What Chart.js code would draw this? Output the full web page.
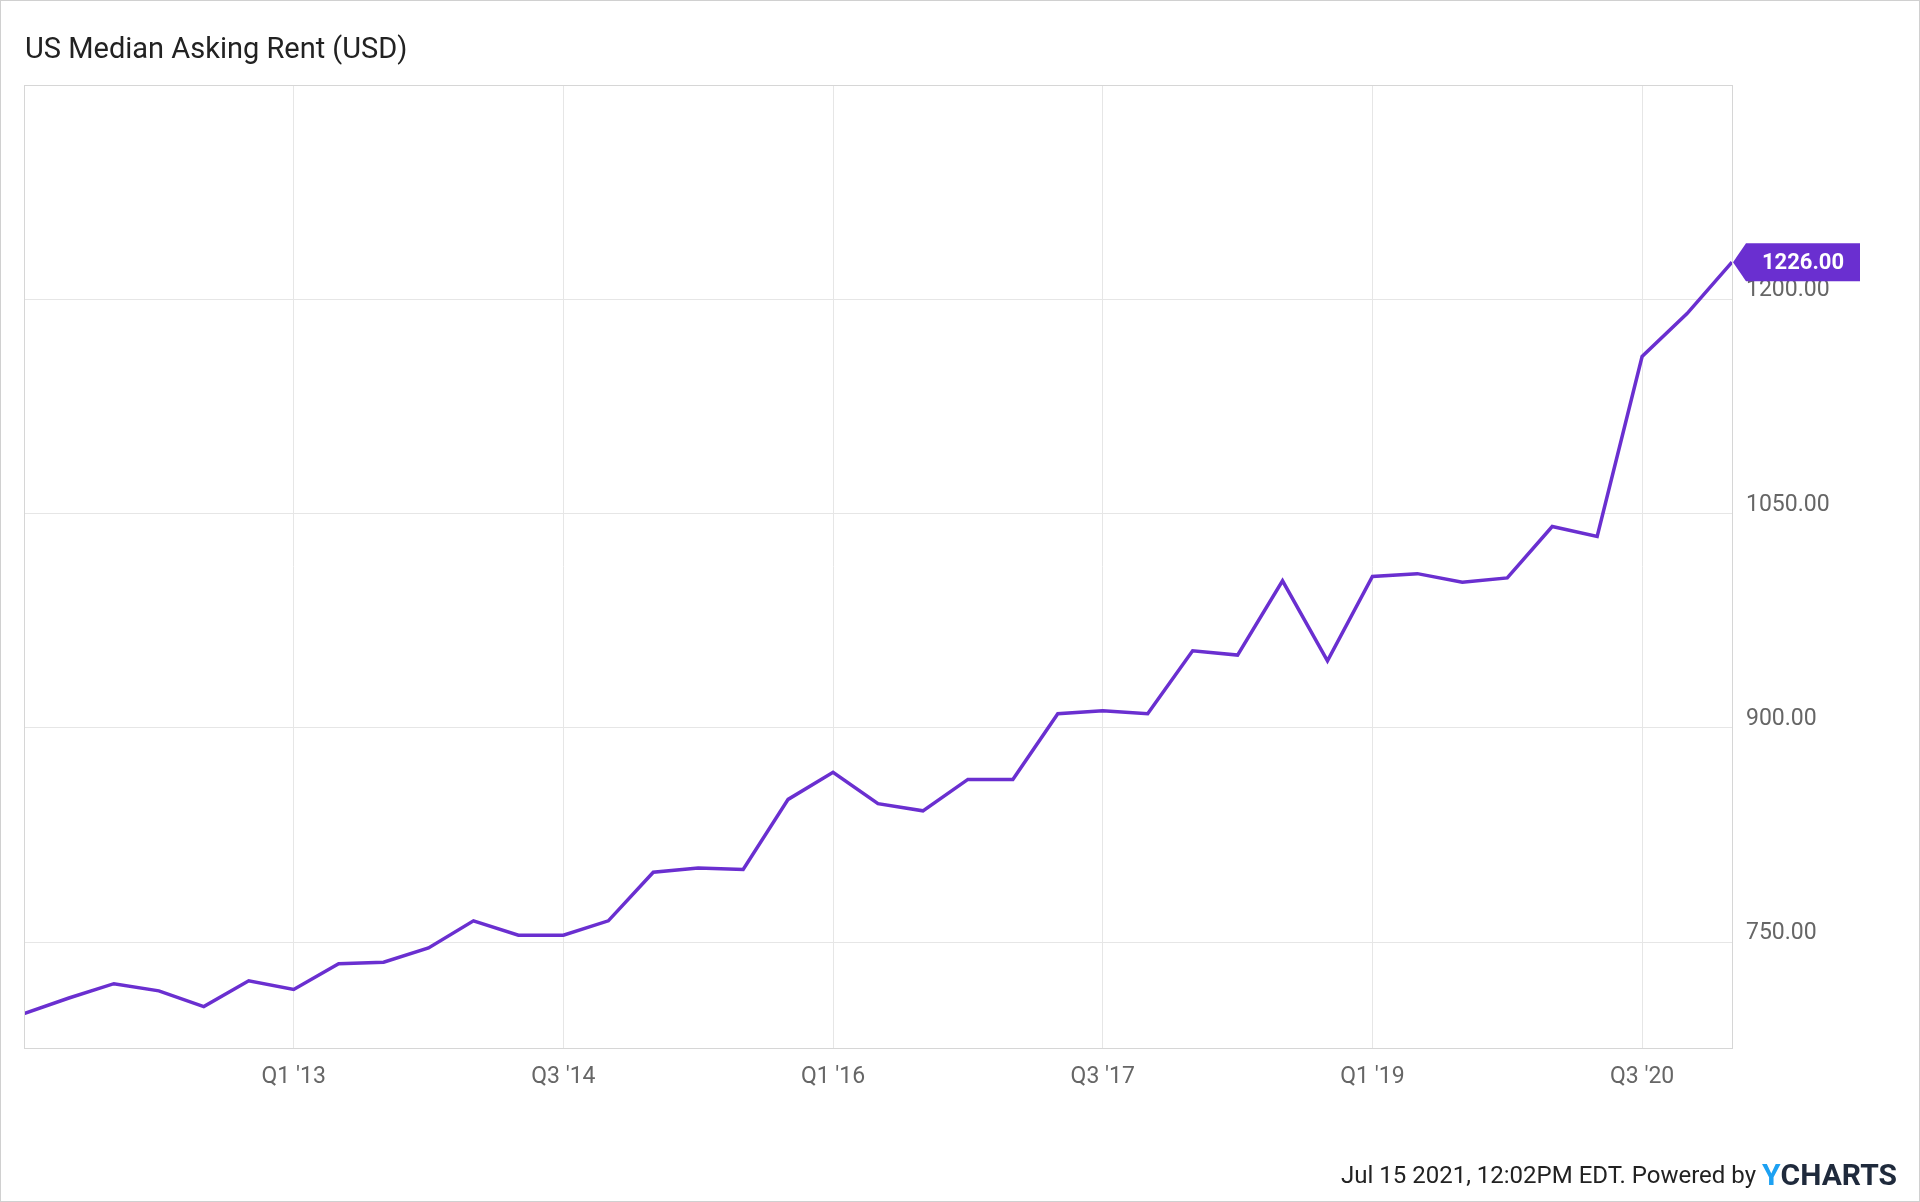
<!DOCTYPE html>
<html>
<head>
<meta charset="utf-8">
<script src="https://cdn.jsdelivr.net/npm/chart.js@4/dist/chart.umd.min.js"></script>
<style>
  html, body { margin: 0; padding: 0; background: #fff; }
  #wrap { width: 1920px; height: 1202px; position: relative; box-sizing: border-box; border: 1px solid #d0d0d0; }
  canvas { display: block; }
</style>
</head>
<body>
<div id="wrap"><canvas id="chart" width="1918" height="1200"></canvas></div>
<script>
// quarterly, Q3 '11 .. Q1 '21
const quarters = [
  "Q3 '11","Q4 '11","Q1 '12","Q2 '12","Q3 '12","Q4 '12","Q1 '13","Q2 '13","Q3 '13","Q4 '13",
  "Q1 '14","Q2 '14","Q3 '14","Q4 '14","Q1 '15","Q2 '15","Q3 '15","Q4 '15","Q1 '16","Q2 '16",
  "Q3 '16","Q4 '16","Q1 '17","Q2 '17","Q3 '17","Q4 '17","Q1 '18","Q2 '18","Q3 '18","Q4 '18",
  "Q1 '19","Q2 '19","Q3 '19","Q4 '19","Q1 '20","Q2 '20","Q3 '20","Q4 '20","Q1 '21"
];
const rent = [
  700, 711, 721, 716, 705, 723, 717, 735, 736, 746,
  765, 755, 755, 765, 799, 802, 801, 850, 869, 847,
  842, 864, 864, 910, 912, 910, 954, 951, 1003, 947,
  1006, 1008, 1002, 1005, 1041, 1034, 1160, 1190, 1226
];
const xTickIdx = [6, 12, 18, 24, 30, 36];
const yTicks = [750, 900, 1050, 1200];

const title = 'US Median Asking Rent (USD)';
const footer = 'Jul 15 2021, 12:02PM EDT. Powered by';
const lineColor = '#6a2fd0';

const overlay = {
  id: 'overlay',
  afterDraw(chart) {
    const ctx = chart.ctx, y = chart.scales.y, area = chart.chartArea;
    ctx.save();
    // plot frame
    ctx.strokeStyle = '#d6d6d6';
    ctx.lineWidth = 1;
    ctx.strokeRect(area.left + 0.5, area.top + 0.5, area.right - area.left, area.bottom - area.top);
    // title
    ctx.fillStyle = '#222';
    ctx.font = '29px Roboto';
    ctx.textBaseline = 'middle';
    ctx.fillText(title, 24, 50);
    // y labels, sitting just above the grid lines
    ctx.fillStyle = '#666';
    ctx.font = '23px Roboto';
    ctx.textBaseline = 'alphabetic';
    yTicks.forEach(v => ctx.fillText(v.toFixed(2), area.right + 14, y.getPixelForValue(v) - 3));
    // last value callout
    const last = rent[rent.length - 1];
    const py = y.getPixelForValue(last);
    const bx = area.right + 14, bw = 114, bh = 38;
    ctx.fillStyle = lineColor;
    ctx.beginPath();
    ctx.moveTo(area.right + 1, py);
    ctx.lineTo(bx, py - bh / 2);
    ctx.lineTo(bx + bw, py - bh / 2);
    ctx.lineTo(bx + bw, py + bh / 2);
    ctx.lineTo(bx, py + bh / 2);
    ctx.closePath();
    ctx.fill();
    ctx.fillStyle = '#fff';
    ctx.font = 'bold 22px Roboto';
    ctx.textAlign = 'center';
    ctx.textBaseline = 'middle';
    ctx.fillText(last.toFixed(2), bx + bw / 2, py + 1);
    // footer
    ctx.textAlign = 'right';
    ctx.textBaseline = 'middle';
    ctx.font = 'bold 30px Roboto';
    const logoW = ctx.measureText('CHARTS').width;
    const yW = ctx.measureText('Y').width;
    const fy = 1176;
    ctx.fillStyle = '#1f2a3c';
    ctx.fillText('CHARTS', 1896, fy);
    ctx.fillStyle = '#1da1f2';
    ctx.fillText('Y', 1896 - logoW, fy);
    ctx.fillStyle = '#222';
    ctx.font = '24px Roboto';
    ctx.fillText(footer, 1896 - logoW - yW - 6, fy);
    ctx.restore();
  }
};

new Chart(document.getElementById('chart'), {
  type: 'line',
  data: {
    datasets: [{
      data: rent.map((v, i) => ({ x: i, y: v })),
      borderColor: lineColor,
      borderWidth: 3.5,
      pointRadius: 0,
      tension: 0,
      fill: false
    }]
  },
  options: {
    responsive: false,
    animation: false,
    layout: { padding: { top: 84, left: 23, right: 0, bottom: 0 } },
    plugins: { legend: { display: false }, tooltip: { enabled: false } },
    scales: {
      x: {
        type: 'linear',
        min: 0,
        max: rent.length - 1,
        afterBuildTicks: s => { s.ticks = xTickIdx.map(v => ({ value: v })); },
        afterFit: s => { s.height = 153; },
        grid: { color: '#e6e6e6', drawTicks: false },
        border: { display: false },
        ticks: {
          padding: 15,
          color: '#666',
          font: { family: 'Roboto', size: 23 },
          maxRotation: 0,
          callback: v => quarters[v]
        }
      },
      y: {
        position: 'right',
        min: 676,
        max: 1350,
        afterBuildTicks: s => { s.ticks = yTicks.map(v => ({ value: v })); },
        afterFit: s => { s.width = 187; },
        grid: { color: '#e6e6e6', drawTicks: false },
        border: { display: false },
        ticks: { color: 'rgba(0,0,0,0)', font: { size: 22 } }
      }
    }
  },
  plugins: [overlay]
});
</script>
</body>
</html>
